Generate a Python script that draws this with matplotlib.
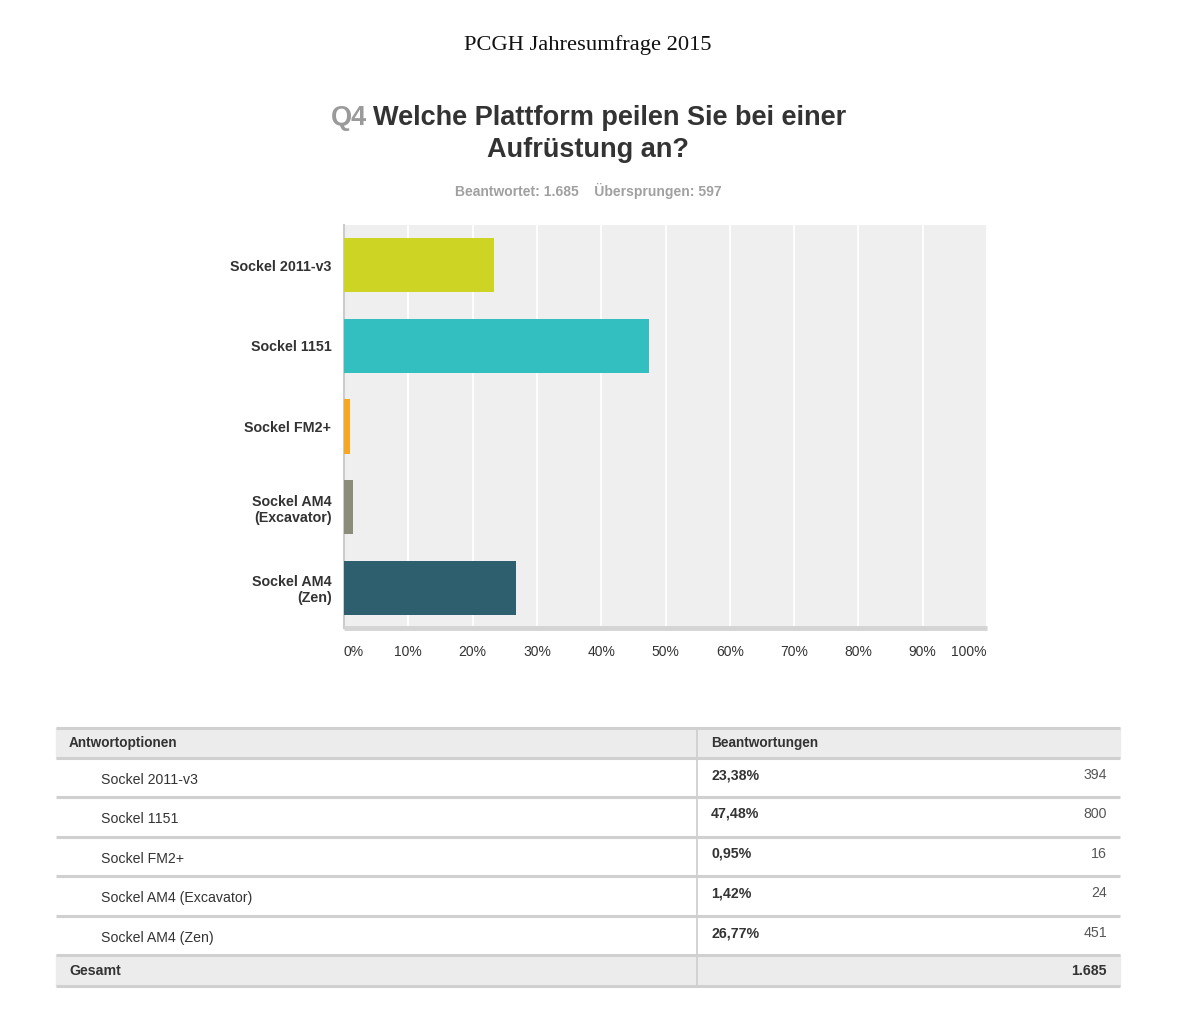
import matplotlib
matplotlib.use("Agg")
import matplotlib.pyplot as plt
from matplotlib.patches import Rectangle

categories = ["Sockel 2011-v3", "Sockel 1151", "Sockel FM2+", "Sockel AM4\n(Excavator)", "Sockel AM4\n(Zen)"]
table_labels = ["Sockel 2011-v3", "Sockel 1151", "Sockel FM2+", "Sockel AM4 (Excavator)", "Sockel AM4 (Zen)"]
percent = [23.38, 47.48, 0.95, 1.42, 26.77]
counts = [394, 800, 16, 24, 451]
total = "1.685"
skipped = "597"
colors = ["#CDD424", "#33BEC0", "#F7A823", "#8B8C7A", "#2E5F6E"]
xticks = [0, 10, 20, 30, 40, 50, 60, 70, 80, 90, 100]

W, H = 1178, 1024
fig = plt.figure(figsize=(W / 100, H / 100), dpi=100)
fig.patch.set_facecolor("white")
sans = ["Liberation Sans", "DejaVu Sans"]

# overlay axes in pixel coords
ov = fig.add_axes([0, 0, 1, 1])
ov.set_xlim(0, W)
ov.set_ylim(H, 0)
ov.axis("off")

ov.text(588, 45, "PCGH Jahresumfrage 2015", ha="center", va="center",
        fontsize=16.2, family=["Liberation Serif", "DejaVu Serif"], color="#111111")

ov.text(373, 118, "Welche Plattform peilen Sie bei einer", ha="left", va="center",
        fontsize=19.5, fontweight="bold", family=sans, color="#333333")
ov.text(367, 118, "Q4", ha="right", va="center", fontsize=19.5, fontweight="bold",
        family=sans, color="#9a9a9a")
ov.text(588, 150, "Aufrüstung an?", ha="center", va="center", fontsize=19.5,
        fontweight="bold", family=sans, color="#333333")
ov.text(588, 191, f"Beantwortet: {total}    Übersprungen: {skipped}", ha="center",
        va="center", fontsize=10, fontweight="bold", family=sans, color="#a0a0a0")

# chart
L, R, T, B = 344, 987, 225, 628
ax = fig.add_axes([L / W, 1 - B / H, (R - L) / W, (B - T) / H])
ax.set_facecolor("#efefef")
y = list(range(len(categories)))
ax.barh(y, percent, height=0.67, color=colors, zorder=3)
ax.set_xlim(0, 100)
ax.set_ylim(len(categories) - 0.5, -0.5)
ax.set_xticks(xticks)
ax.set_xticklabels([])
ax.grid(axis="x", color="white", linewidth=1.3, zorder=1)
ax.set_yticks(y)
ax.set_yticklabels(categories, fontsize=10.3, fontweight="bold", family=sans, color="#333333")
ax.tick_params(axis="y", length=0, pad=9)
ax.tick_params(axis="x", length=0)
for lbl in ax.get_yticklabels():
    lbl.set_horizontalalignment("right")
    lbl.set_multialignment("right")
for s in ["top", "right"]:
    ax.spines[s].set_visible(False)
ax.spines["left"].set_color("#cccccc")
ax.spines["left"].set_linewidth(1.5)
ax.spines["bottom"].set_color("#d4d4d4")
ax.spines["bottom"].set_linewidth(3.5)
ax.spines["bottom"].set_capstyle("butt")

for v in xticks:
    px = L + (R - L) * v / 100
    ha = "center"
    if v == 0:
        ha = "left"
    elif v == 100:
        ha = "right"
    ov.text(px, 652, f"{v}%", ha=ha, va="center", fontsize=10, family=sans, color="#333333")

# table
TL, TR, DIV = 56, 1120, 697
hdr_top, hdr_bot = 728, 758
row_edges = [758, 797, 837, 876, 916, 955]
foot_bot = 986
ov.add_patch(Rectangle((TL, hdr_top), TR - TL, hdr_bot - hdr_top, color="#ececec", zorder=1))
ov.add_patch(Rectangle((TL, row_edges[-1]), TR - TL, foot_bot - row_edges[-1], color="#ececec", zorder=1))
for yy in [hdr_top] + row_edges + [foot_bot]:
    ov.plot([TL, TR], [yy, yy], color="#d0d0d0", linewidth=2.2, zorder=2, solid_capstyle="butt")
ov.plot([DIV, DIV], [hdr_top, foot_bot], color="#d0d0d0", linewidth=1.3, zorder=2)

ov.text(69, 743, "Antwortoptionen", ha="left", va="center", fontsize=9.8,
        fontweight="bold", family=sans, color="#333333")
ov.text(711, 743, "Beantwortungen", ha="left", va="center", fontsize=9.8,
        fontweight="bold", family=sans, color="#333333")
for i, (lab, p, c) in enumerate(zip(table_labels, percent, counts)):
    top = row_edges[i]
    ov.text(101, top + 22, lab, ha="left", va="center", fontsize=10.2, family=sans, color="#333333")
    ov.text(711, top + 17, f"{p:.2f}%".replace(".", ","), ha="left", va="center", fontsize=10.2,
            fontweight="bold", family=sans, color="#333333")
    ov.text(1107, top + 17, f"{c}", ha="right", va="center", fontsize=10.2, family=sans, color="#555555")
ov.text(69, 971, "Gesamt", ha="left", va="center", fontsize=10.2, fontweight="bold",
        family=sans, color="#333333")
ov.text(1107, 971, total, ha="right", va="center", fontsize=10.2, fontweight="bold",
        family=sans, color="#333333")

fig.savefig("out.png", dpi=100, facecolor="white")
